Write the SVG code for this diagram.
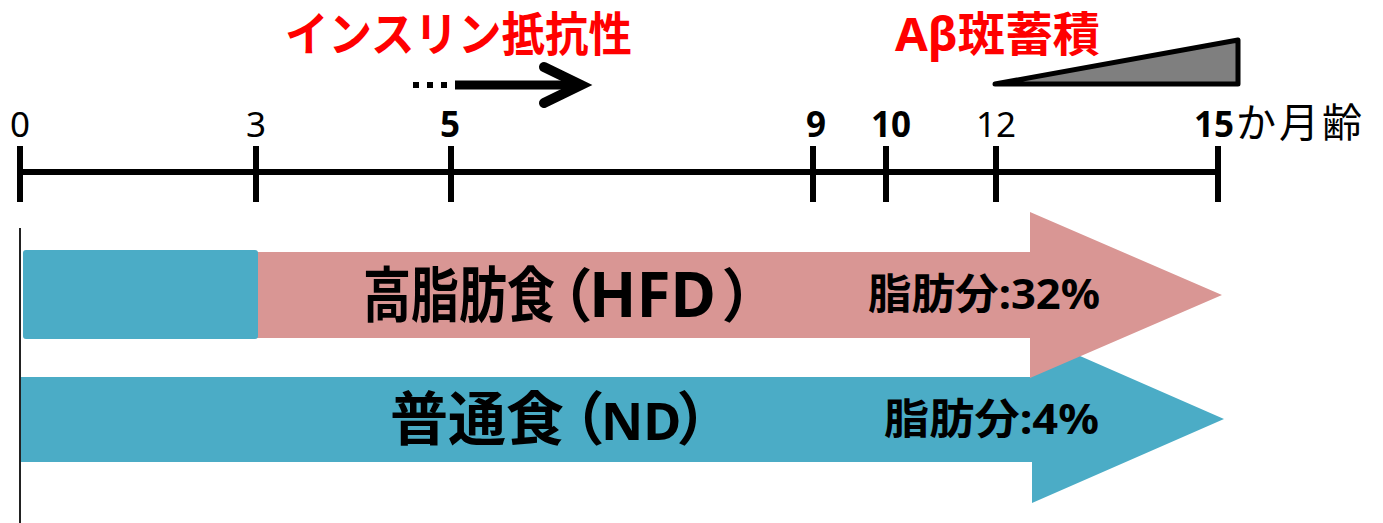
<svg xmlns="http://www.w3.org/2000/svg" width="1383" height="523" viewBox="0 0 1383 523">
<style>
.ax{stroke:#000;stroke-width:6;fill:none}
.tk{font-family:"Noto Sans","Noto Sans CJK JP",sans-serif;font-size:35px;fill:#000;text-anchor:middle}
.b{font-weight:bold}
.red{font-family:"Noto Sans","Noto Sans CJK JP",sans-serif;font-size:47px;font-weight:bold;fill:#FF0000}
.lbl{font-family:"Noto Sans","Noto Sans CJK JP",sans-serif;font-weight:bold;fill:#000}
.h{font-family:"Noto Sans CJK JP",sans-serif;font-feature-settings:"palt"}
</style>
<rect width="1383" height="523" fill="#fff"/>
<g id="timeline">
<line class="ax" x1="17" y1="172" x2="1221" y2="172"/>
<line class="ax" x1="20" y1="146" x2="20" y2="202"/>
<line class="ax" x1="256" y1="146" x2="256" y2="202"/>
<line class="ax" x1="451" y1="146" x2="451" y2="202"/>
<line class="ax" x1="813" y1="146" x2="813" y2="202"/>
<line class="ax" x1="886" y1="146" x2="886" y2="202"/>
<line class="ax" x1="996" y1="146" x2="996" y2="202"/>
<line class="ax" x1="1218" y1="146" x2="1218" y2="202"/>
<text class="tk" x="20" y="137">0</text>
<text class="tk" x="256" y="137">3</text>
<text class="tk b" x="450" y="137">5</text>
<text class="tk b" x="816" y="137">9</text>
<text class="tk b" x="891" y="137">10</text>
<text class="tk" x="996" y="137">12</text>
<text class="tk" x="1194" y="137" style="text-anchor:start"><tspan class="b">15</tspan><tspan x="1236" style="font-size:40px;letter-spacing:3px">か月齢</tspan></text>
</g>
<g id="insulin">
<text class="red" x="285" y="51" textLength="347" lengthAdjust="spacingAndGlyphs">インスリン抵抗性</text>
<rect x="413" y="82" width="6" height="6"/>
<rect x="427" y="82" width="6" height="6"/>
<rect x="441" y="82" width="6" height="6"/>
<line x1="455" y1="85" x2="578" y2="85" stroke="#000" stroke-width="9"/>
<polyline points="544,67 581,85 544,103" fill="none" stroke="#000" stroke-width="10" stroke-linecap="round" stroke-linejoin="miter"/>
</g>
<g id="abeta">
<text class="red" x="895" y="51" textLength="205" lengthAdjust="spacingAndGlyphs">Aβ斑蓄積</text>
<polygon points="995,84 1238,40 1238,84" fill="#7F7F7F" stroke="#000" stroke-width="5" stroke-linejoin="round"/>
</g>
<g id="nd">
<polygon points="21,377 1032,377 1032,335 1224,419 1032,503 1032,462 21,462" fill="#4BACC6"/>
<text class="lbl" y="440" font-size="58"><tspan x="390">普通食</tspan><tspan class="h" x="573">（</tspan><tspan x="601" font-size="52">ND</tspan><tspan class="h" x="679">）</tspan></text>
<text class="lbl" x="884" y="434" font-size="42" textLength="215" lengthAdjust="spacingAndGlyphs">脂肪分:4%</text>
</g>
<g id="hfd">
<polygon points="257,252 1030,252 1030,212 1222,295 1030,378 1030,338 257,338" fill="#D99694"/>
<rect x="23" y="250" width="235" height="89" rx="3" fill="#4BACC6"/>
<text class="lbl" y="317" font-size="58"><tspan x="363" font-size="60" textLength="192" lengthAdjust="spacingAndGlyphs">高脂肪食</tspan><tspan class="h" x="561">（</tspan><tspan x="589" font-size="62">HFD</tspan><tspan class="h" x="724">）</tspan></text>
<text class="lbl" x="868" y="309" font-size="42" textLength="232" lengthAdjust="spacingAndGlyphs">脂肪分:32%</text>
</g>
<line x1="20" y1="228" x2="20" y2="523" stroke="#222" stroke-width="2"/>
</svg>
